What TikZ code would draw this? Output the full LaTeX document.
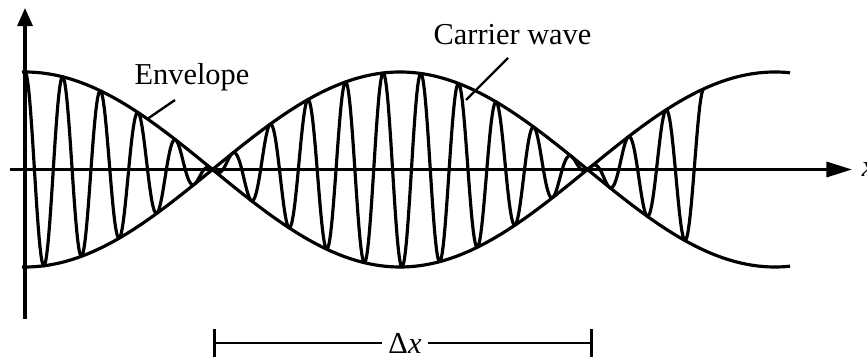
\documentclass[tikz,border=0pt]{standalone}
\usepackage{fontspec}
\setmainfont{Liberation Serif}
\usetikzlibrary{arrows.meta}

\begin{document}
\begin{tikzpicture}[x=0.133cm,y=0.133cm,line join=round,line width=1.2pt,
    wavetext/.style={font=\fontsize{11.5}{13}\selectfont,inner sep=0pt}]
        \useasboundingbox (-2.5,-18.85) rectangle (84.2,16.95);
        \draw[-{Triangle[length=3.4mm,width=2mm]}] (-1.5,0)--(82.7,0)
          node[right,inner sep=1.1mm,font=\fontsize{11.5}{13}\selectfont] (xlab) {\textit{x}};
        \draw[-{Triangle[length=2.4mm,width=2mm]}] (0,-14.95)--(0,16.15);
        \foreach \s in {1,-1}
          \draw[domain=-0.3:76.5,samples=160,smooth] plot (\x,{\s*9.75*cos(4.8*\x)});
        \draw[domain=0:67.86,samples=720] plot (\x,{9.75*cos(4.8*\x)*cos(95.49*\x)});
        \node[wavetext,anchor=base west] (envlabel) at (10.8,8.45) {Envelope};
        \node[wavetext,anchor=base] (carlabel) at (48.75,12.45) {Carrier wave};
        \coordinate (envfoot) at (15.0,6.95);
        \coordinate (envtip) at (12.3,5.1);
        \coordinate (carfoot) at (48.3,11.15);
        \coordinate (cartip) at (44.1,6.95);
        \draw[line width=0.9pt] (envfoot)--(envtip);
        \draw[line width=0.9pt] (carfoot)--(cartip);
        \node[font=\fontsize{11.5}{13}\selectfont,inner sep=2pt] (dx) at (38,-17.35) {Δ\textit{x}};
        \coordinate (dxl) at (18.8,-17.35);
        \coordinate (dxr) at (56.8,-17.35);
        \draw[line width=1pt,{Bar[width=3.8mm]}-] (dxl)--(dx);
        \draw[line width=1pt,-{Bar[width=3.8mm]}] (dx)--(dxr);
      \end{tikzpicture}
\end{document}
